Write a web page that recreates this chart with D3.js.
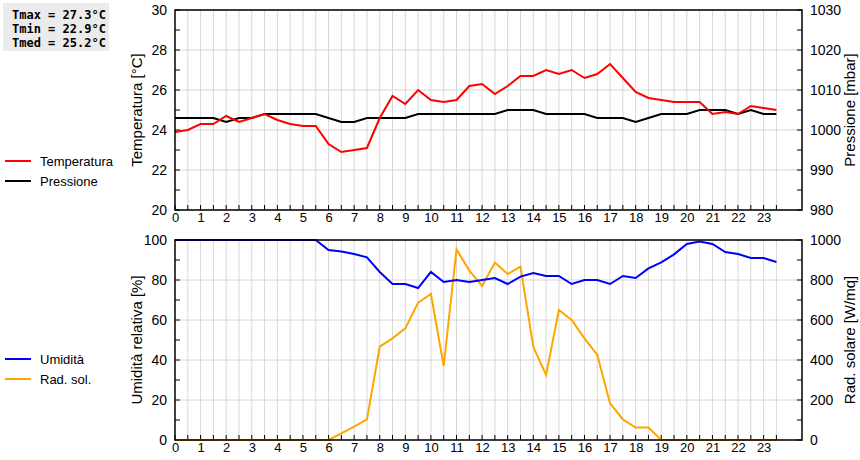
<!DOCTYPE html>
<html><head><meta charset="utf-8">
<script src="https://cdn.jsdelivr.net/npm/d3@7"></script>
<style>body{margin:0;background:#fff}text{font-family:"Liberation Sans",Arial,sans-serif}text.mono{font-family:"DejaVu Sans Mono",monospace}</style>
</head><body><svg id="c" width="860" height="460"></svg>
<script>
const hours = d3.range(48).map(i => i * 0.5);
const temperatura = [23.9,24.0,24.3,24.3,24.7,24.4,24.6,24.8,24.5,24.3,24.2,24.2,23.3,22.9,23.0,23.1,24.6,25.7,25.3,26.0,25.5,25.4,25.5,26.2,26.3,25.8,26.2,26.7,26.7,27.0,26.8,27.0,26.6,26.8,27.3,26.6,25.9,25.6,25.5,25.4,25.4,25.4,24.8,24.9,24.8,25.2,25.1,25.0];
const pressione = [1003,1003,1003,1003,1002,1003,1003,1004,1004,1004,1004,1004,1003,1002,1002,1003,1003,1003,1003,1004,1004,1004,1004,1004,1004,1004,1005,1005,1005,1004,1004,1004,1004,1003,1003,1003,1002,1003,1004,1004,1004,1005,1005,1005,1004,1005,1004,1004];
const umidita = [100,100,100,100,100,100,100,100,100,100,100,100,95,94.2,93,91.3,84,78,78,76,84,79,80,79,80,81,78,81.7,83.5,82,82,78,80,80,78,82,81,85.8,88.8,92.8,98,99.2,98,94,93,91,91,89];
const radSol = [0,0,0,0,0,0,0,0,0,0,0,0,0,33,67,103,467,508,558,687,730,370,953,847,770,887,830,867,466,325,650,600,508,425,183,103,62,62,0,0,0,0,0,0,0,0,0,0];
const statsLabels = ["Tmax = 27.3°C","Tmin = 22.9°C","Tmed = 25.2°C"];
const hourTicks = d3.range(24);

const svg = d3.select("#c");
const X0 = 175, X1 = 802;
const x = d3.scaleLinear().domain([0, 24.5]).range([X0, X1]);

function panel(top, bot, yl, yr, leftTitle, rightTitle, series, legend, legY) {
  const g = svg.append("g");
  hours.forEach(h => { if (h > 0) g.append("line").attr("x1", x(h)).attr("x2", x(h)).attr("y1", top).attr("y2", bot).attr("stroke", "#d8d8d8"); });
  yl.ticks(5).forEach(v => { g.append("line").attr("x1", X0).attr("x2", X1).attr("y1", yl(v)).attr("y2", yl(v)).attr("stroke", "#d8d8d8"); });
  const la = d3.axisLeft(yl).ticks(5).tickFormat(d3.format("d")).tickSize(0).tickPadding(8);
  g.append("g").attr("transform", `translate(${X0},0)`).call(la).call(s => { s.select(".domain").remove(); s.selectAll("text").attr("font-size", 14).attr("fill", "#000"); });
  const ra = d3.axisRight(yr).ticks(5).tickFormat(d3.format("d")).tickSize(0).tickPadding(8);
  g.append("g").attr("transform", `translate(${X1},0)`).call(ra).call(s => { s.select(".domain").remove(); s.selectAll("text").attr("font-size", 14).attr("fill", "#000"); });
  d3.range(yl.domain()[0], yl.domain()[1] + 1e-9, (yl.domain()[1] - yl.domain()[0]) / 10).forEach(v => {
    g.append("line").attr("x1", X0).attr("x2", X0 + 5).attr("y1", yl(v)).attr("y2", yl(v)).attr("stroke", "#000");
    g.append("line").attr("x1", X1 - 5).attr("x2", X1).attr("y1", yl(v)).attr("y2", yl(v)).attr("stroke", "#000");
  });
  hours.forEach(h => g.append("line").attr("x1", x(h)).attr("x2", x(h)).attr("y1", bot).attr("y2", bot - 5).attr("stroke", "#000"));
  const ba = d3.axisBottom(x).tickValues(hourTicks).tickFormat(d3.format("d")).tickSize(0).tickPadding(3);
  g.append("g").attr("transform", `translate(0,${bot})`).call(ba).call(s => { s.select(".domain").remove(); s.selectAll("text").attr("font-size", 13).attr("fill", "#000"); });
  series.forEach(s => {
    g.append("path").datum(s.data).attr("fill", "none").attr("stroke", s.color).attr("stroke-width", 2)
      .attr("d", d3.line().x((d, i) => x(hours[i])).y(d => s.y(d)));
  });
  g.append("rect").attr("x", X0).attr("y", top).attr("width", X1 - X0).attr("height", bot - top).attr("fill", "none").attr("stroke", "#000").attr("stroke-width", 1.5);
  g.append("text").attr("transform", `translate(142,${(top + bot) / 2}) rotate(-90)`).attr("text-anchor", "middle").attr("font-size", 15).text(leftTitle);
  g.append("text").attr("transform", `translate(855,${(top + bot) / 2}) rotate(-90)`).attr("text-anchor", "middle").attr("font-size", 15).text(rightTitle);
  legend.forEach((l, i) => {
    const yy = legY + i * 20;
    g.append("line").attr("x1", 5).attr("x2", 31).attr("y1", yy).attr("y2", yy).attr("stroke", l.color).attr("stroke-width", 2);
    g.append("text").attr("x", 40).attr("y", yy + 5).attr("font-size", 13).text(l.name);
  });
}

const yT = d3.scaleLinear().domain([20, 30]).range([210, 10]);
const yP = d3.scaleLinear().domain([980, 1030]).range([210, 10]);
panel(10, 210, yT, yP, "Temperatura [°C]", "Pressione [mbar]",
  [{data: pressione, y: yP, color: "#000"}, {data: temperatura, y: yT, color: "#f00"}],
  [{name: "Temperatura", color: "#f00"}, {name: "Pressione", color: "#000"}], 161);

const yH = d3.scaleLinear().domain([0, 100]).range([440, 240]);
const yR = d3.scaleLinear().domain([0, 1000]).range([440, 240]);
panel(240, 440, yH, yR, "Umidità relativa [%]", "Rad. solare [W/mq]",
  [{data: radSol, y: yR, color: "#ffa500"}, {data: umidita, y: yH, color: "#00f"}],
  [{name: "Umidità", color: "#00f"}, {name: "Rad. sol.", color: "#ffa500"}], 359);

svg.append("rect").attr("x", 3).attr("y", 3).attr("width", 106).attr("height", 48).attr("fill", "#ebebeb");
statsLabels.forEach((t, i) => svg.append("text").attr("class", "mono").attr("x", 12).attr("y", 19 + i * 14)
  .attr("font-weight", "bold").attr("font-size", 12).text(t));
</script></body></html>
